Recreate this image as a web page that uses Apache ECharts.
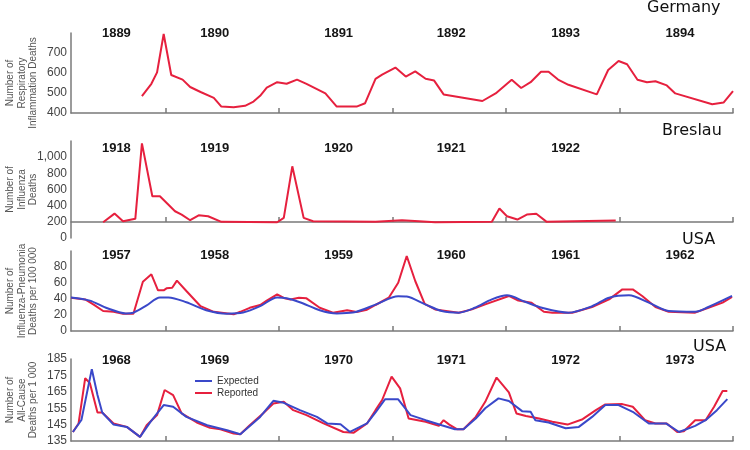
<!DOCTYPE html>
<html>
<head>
<meta charset="utf-8">
<script src="https://cdn.jsdelivr.net/npm/echarts@6/dist/echarts.min.js"></script>
<style>
  html, body { margin: 0; padding: 0; background: #fff; }
  #chart { width: 750px; height: 450px; }
</style>
</head>
<body>
<div id="chart"></div>
<script>
// x axis runs in months from March of the first year (2) to the end of year six (72)
const monthMin = 2;
const monthMax = 72;
const yearTicks = [12, 24, 36, 48, 60, 72];
const yearLabelPos = [6.8, 17.2, 30.3, 42.2, 54.3, 66.4];

// Germany 1889-1894
const germanyYears = ['1889', '1890', '1891', '1892', '1893', '1894'];
const germanyMonth = [9.5, 10.5, 11.1, 11.8, 12.6, 13.8, 14.6, 15.7, 17.1, 17.9, 19.2, 20.4, 21.3, 22.0, 22.7,
    23.8, 24.8, 25.9, 26.9, 28.9, 30.1, 32.2, 33.1, 34.2, 34.9, 36.3, 37.4, 38.4, 39.5, 40.4, 41.4, 45.5,
    46.9, 48.6, 49.6, 50.6, 51.7, 52.5, 53.5, 54.6, 57.6, 58.8, 59.9, 60.8, 61.9, 62.9, 63.8, 65.0, 65.9,
    69.8, 71.0, 72.0];
const germanyDeaths = [484, 546, 603, 795, 590, 567, 530, 505, 476, 432, 429, 436, 457, 486, 527,
    554, 546, 567, 546, 498, 432, 432, 449, 571, 592, 627, 582, 608, 571, 562, 493, 460,
    498, 566, 525, 554, 606, 606, 567, 541, 493, 615, 660, 644, 566, 554, 559, 538, 498,
    444, 452, 509];

// Breslau 1918-1922
const breslauYears = ['1918', '1919', '1920', '1921', '1922'];
const breslauMonth = [5.4, 6.6, 7.5, 8.8, 9.5, 10.6, 11.4, 13.0, 13.7, 14.6, 15.5, 16.5, 17.9, 23.8, 24.5,
    25.4, 26.6, 27.6, 34.2, 37.0, 38.8, 40.5, 46.5, 47.3, 48.1, 49.2, 50.2, 51.2, 52.3, 59.6];
const breslauDeaths = [195, 302, 207, 237, 1170, 516, 516, 331, 290, 220, 281, 269, 200, 195, 249,
    887, 249, 207, 200, 220, 207, 195, 200, 364, 269, 228, 290, 299, 200, 216];

// USA influenza-pneumonia 1957-1962
const fluYears = ['1957', '1958', '1959', '1960', '1961', '1962'];
const fluMonth = [2.0, 3.5, 4.4, 5.4, 6.5, 7.5, 8.6, 9.6, 10.5, 11.2, 11.8, 12.1, 12.7, 13.2, 14.2, 15.7,
    17.1, 19.2, 19.9, 20.9, 22.0, 22.7, 23.8, 24.6, 25.2, 26.1, 26.9, 28.3, 29.7, 31.2, 32.2, 33.3, 34.2,
    35.6, 36.6, 37.5, 38.4, 39.4, 40.5, 43.0, 44.4, 45.8, 48.3, 49.3, 50.7, 52.0, 52.9, 55.0, 57.1, 58.9,
    60.3, 61.4, 62.4, 63.8, 65.2, 68.0, 69.4, 70.9, 71.9];
const fluReported = [41.6, 39.5, 33, 25, 24, 21.6, 21.6, 61.6, 70.8, 50.8, 50.8, 53.3, 54, 63, 50, 31,
    24, 20.8, 24, 29, 32.5, 38, 45.8, 40.8, 39.5, 41.6, 40.8, 29, 22.9, 25.8, 23.8, 26.6, 32.5,
    41.6, 60.4, 93.8, 62.5, 34, 27, 22.9, 27, 33.3, 43.8, 38, 35.4, 24, 22.9, 22.9, 30, 39.5,
    52, 52, 43.8, 30, 24, 22.9, 29, 35.4, 42.5];
const fluExpMonth = [2.0, 4.0, 5.7, 7.8, 8.6, 10.0, 11.4, 12.3, 14.2, 16.3, 18.5, 20.2, 22.0, 23.8, 24.8,
    26.2, 28.3, 30.1, 31.8, 34.2, 36.6, 37.5, 39.5, 41.2, 43.0, 44.7, 46.5, 48.1, 50.0, 51.8, 54.6,
    57.1, 58.9, 61.0, 63.1, 65.2, 68.0, 69.4, 71.9];
const fluExpected = [42, 38, 29, 22, 23, 32, 42, 42, 36, 26, 21.6, 23, 31, 42, 41,
    36, 26, 22, 23, 33, 43.5, 43, 33, 25, 22.9, 29, 39.5, 44.6, 36.6, 29, 22.9,
    31, 41.6, 44.6, 35.4, 25, 24, 30, 43.8];

// USA all-cause 1968-1973
const allYears = ['1968', '1969', '1970', '1971', '1972', '1973'];
const allMonth = [2.2, 2.8, 3.5, 4.0, 4.8, 5.3, 6.5, 7.9, 9.3, 10.0, 11.1, 11.9, 12.8, 13.7, 15.3, 16.7,
    17.8, 19.2, 19.9, 20.9, 22.3, 23.4, 24.5, 25.5, 26.9, 28.7, 30.8, 31.9, 33.3, 34.2, 34.9, 35.9, 36.8,
    37.7, 39.5, 40.9, 41.4, 42.0, 42.8, 43.5, 44.8, 45.8, 47.0, 48.3, 49.1, 50.1, 51.5, 52.9, 54.5, 56.1,
    57.5, 58.5, 60.3, 61.4, 62.7, 63.8, 65.0, 66.1, 66.8, 68.0, 69.1, 70.0, 70.9, 71.4];
const allReported = [140.5, 145.7, 173.3, 170.2, 152.4, 152.4, 145.7, 143.6, 137.5, 144.6, 150.8, 166.1,
    163, 151.8, 146.3, 143, 142.2, 139.5, 139.1, 144.6, 151.8, 157.9, 158.9, 153.8, 150.8, 145.7, 140.5,
    140.1, 145.7, 153.8, 160, 174.3, 167.1, 148.7, 146.7, 144.2, 147.7, 145, 142.2, 142.2, 149.7, 158.9,
    173.7, 164.7, 151.8, 150.2, 148.7, 146.7, 145, 148.3, 153.8, 157.3, 157.5, 155.9, 147.7, 145.7,
    145.7, 140.5, 141, 147.7, 147.7, 155.9, 165.5, 165.5];
const allExpMonth = [2.2, 3.1, 4.2, 4.8, 5.3, 6.5, 7.9, 9.3, 10.4, 11.8, 12.8, 14.2, 16.4, 18.5, 19.9,
    22.0, 23.4, 24.5, 26.2, 28.0, 29.1, 30.5, 31.5, 33.3, 34.2, 35.2, 36.6, 37.9, 39.5, 41.2, 42.6, 43.5,
    44.8, 45.8, 47.2, 48.3, 49.7, 50.6, 51.1, 52.5, 54.3, 55.7, 57.1, 58.5, 59.9, 61.4, 63.1, 64.9, 66.3,
    68.0, 69.1, 70.3, 71.4];
const allExpected = [140.5, 147.8, 178.8, 163, 152.4, 145, 143.6, 137.5, 146.7, 156.9, 155.9, 149.7,
    144.6, 141.6, 139.1, 149.7, 159.5, 158.3, 153.8, 149.7, 145.7, 145.2, 140.5, 145.7, 152.4, 160.4,
    160.4, 150.8, 147.7, 144.6, 142.2, 142.2, 148.7, 155, 161, 159.4, 153.2, 152.8, 147.7, 146.3,
    142.8, 143.6, 149.7, 156.9, 156.9, 152.8, 145.7, 145.7, 140.5, 144.2, 147.7, 153.8, 160.5];

const red = '#e6203e';
const blue = '#3a48c9';
const axisGray = '#7a7a7a';
const font = "'Liberation Sans', Arial, sans-serif";

function zip(xs, ys) {
    return xs.map((x, i) => [x, ys[i]]);
}

function panelGrid(top, bottom) {
    return { left: 71, right: 17, top, bottom, outerBoundsMode: 'none', containLabel: false };
}

function tickAxis(gridIndex, offset) {
    return {
        type: 'value', gridIndex, min: monthMin, max: monthMax, offset,
        axisLine: { onZero: false, lineStyle: { color: axisGray, width: 1.5 } },
        axisTick: { inside: true, length: 5, customValues: yearTicks, lineStyle: { color: axisGray, width: 1.5 } },
        axisLabel: { show: false },
        splitLine: { show: false }
    };
}

function yearAxis(gridIndex, years, margin) {
    const pos = yearLabelPos.slice(0, years.length);
    return {
        type: 'value', gridIndex, position: 'top', min: monthMin, max: monthMax,
        axisLine: { show: false, onZero: false },
        axisTick: { show: false },
        splitLine: { show: false },
        axisLabel: {
            customValues: pos,
            margin,
            verticalAlign: 'middle',
            fontFamily: font, fontWeight: 'bold', fontSize: 13, color: '#151515',
            formatter: v => {
                let best = 0;
                pos.forEach((p, i) => { if (Math.abs(p - v) < Math.abs(pos[best] - v)) best = i; });
                return years[best];
            }
        }
    };
}

// namePad shifts the rotated name down the axis (the Germany one sits low in the original)
function leftAxis(gridIndex, min, max, interval, name, namePad, showMax, fmt) {
    return {
        type: 'value', gridIndex, min, max, interval,
        name, nameLocation: 'middle', nameRotate: 90, nameGap: 32, nameMoveOverlap: false,
        nameTextStyle: { color: '#555', fontSize: 10, lineHeight: 11.5, fontFamily: font, padding: [0, namePad, 0, 0] },
        axisLine: { show: true, lineStyle: { color: axisGray, width: 1.5 } },
        axisTick: { show: false },
        splitLine: { show: false },
        axisLabel: {
            showMaxLabel: showMax, margin: 4, color: '#444', fontSize: 12, fontFamily: font,
            formatter: fmt
        }
    };
}

function lineSeries(name, data, color, idx, smooth) {
    return {
        name, type: 'line', data, xAxisIndex: idx * 2, yAxisIndex: idx,
        showSymbol: false, smooth: smooth || false,
        lineStyle: { color, width: 2 }, itemStyle: { color }
    };
}

function countryTitle(text, left, top) {
    return {
        text, left, top, padding: 0,
        textStyle: { fontFamily: "'DejaVu Sans', sans-serif", fontWeight: 'normal', fontSize: 16, color: '#111' }
    };
}

const chart = echarts.init(document.getElementById('chart'));

chart.setOption({
    animation: false,
    title: [
        countryTitle('Germany', 647, 0),
        countryTitle('Breslau', 662, 123),
        countryTitle('USA', 682, 232),
        countryTitle('USA', 693, 339)
    ],
    legend: {
        data: ['Expected', 'Reported'],
        orient: 'vertical', left: 190, top: 371,
        icon: 'rect', itemWidth: 17, itemHeight: 2, itemGap: 2,
        textStyle: { fontFamily: font, fontSize: 10, color: '#333' }
    },
    grid: [
        panelGrid(33, 337),
        panelGrid(141, 212),
        panelGrid(251, 119),
        panelGrid(359, 9)
    ],
    xAxis: [
        tickAxis(0, 0), yearAxis(0, germanyYears, 0),
        tickAxis(1, -16), yearAxis(1, breslauYears, -7),
        tickAxis(2, 0), yearAxis(2, fluYears, -4),
        tickAxis(3, 0), yearAxis(3, allYears, -1)
    ],
    yAxis: [
        leftAxis(0, 400, 800, 100, 'Number of\nRespiratory\nInflammation Deaths', 20, false),
        leftAxis(1, 0, 1200, 200, 'Number of\nInfluenza\nDeaths', 0, false, v => v.toLocaleString('en-US')),
        leftAxis(2, 0, 100, 20, 'Number of\nInfluenza-Pneumonia\nDeaths per 100 000', 0, false),
        leftAxis(3, 135, 185, 10, 'Number of\nAll-Cause\nDeaths per 1 000', 0, true)
    ],
    series: [
        lineSeries('Germany', zip(germanyMonth, germanyDeaths), red, 0),
        lineSeries('Breslau', zip(breslauMonth, breslauDeaths), red, 1),
        lineSeries('Flu reported', zip(fluMonth, fluReported), red, 2),
        lineSeries('Flu expected', zip(fluExpMonth, fluExpected), blue, 2, 0.3),
        lineSeries('Reported', zip(allMonth, allReported), red, 3),
        lineSeries('Expected', zip(allExpMonth, allExpected), blue, 3)
    ]
});
</script>
</body>
</html>
